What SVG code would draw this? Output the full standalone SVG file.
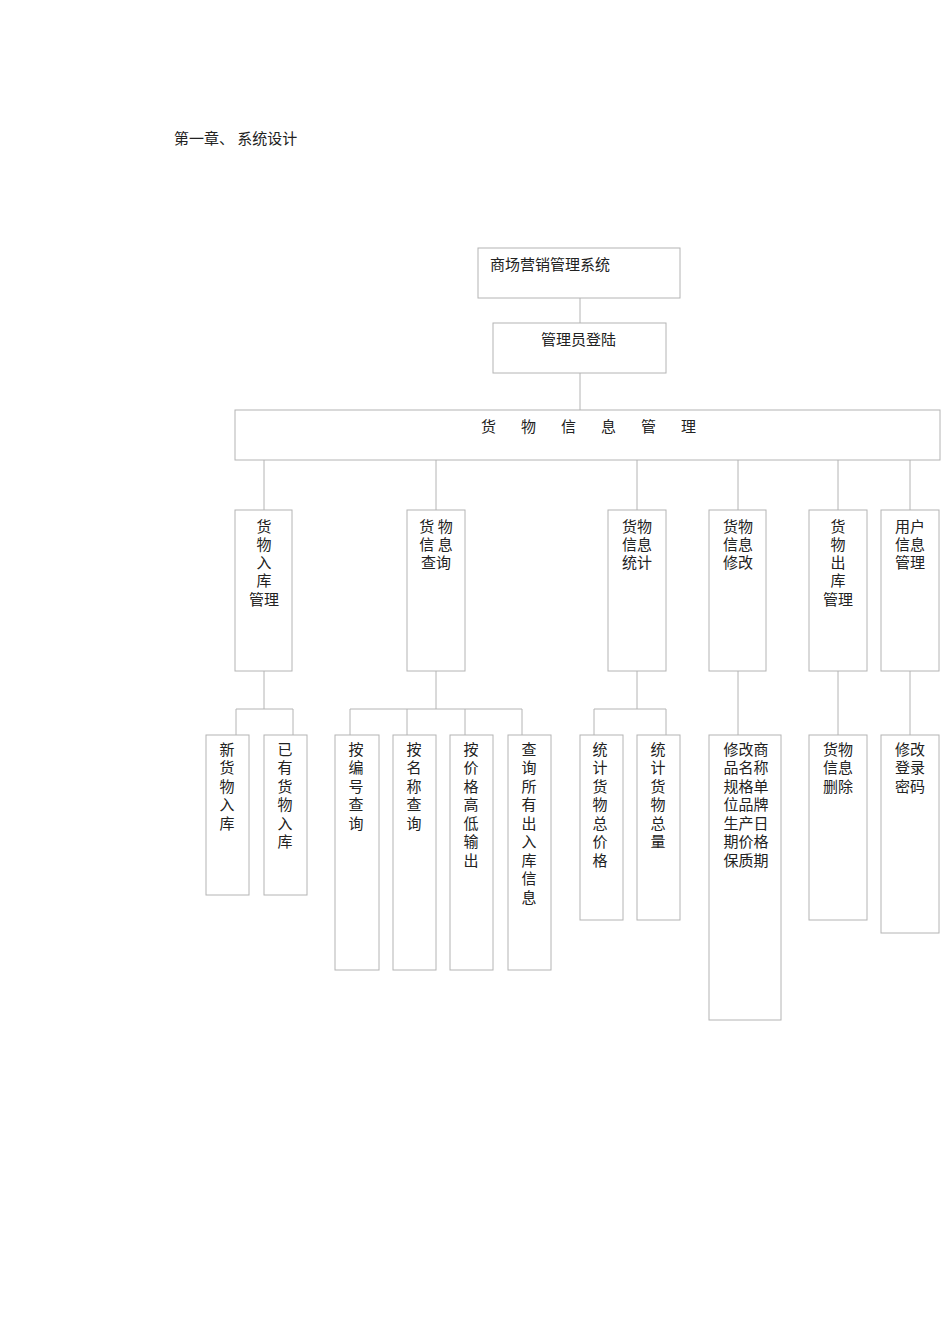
<svg xmlns="http://www.w3.org/2000/svg" width="950" height="1344" viewBox="0 0 950 1344">
<style>
rect{fill:#fff;stroke:#b4b4b4;stroke-width:1}
line{stroke:#b4b4b4;stroke-width:1}
text{font-family:"Noto Sans CJK SC","Liberation Serif",serif;font-size:15px;fill:#222}
.c{text-anchor:middle}
</style>
<rect x="0" y="0" width="950" height="1344" style="stroke:none"/>
<text x="174" y="144">第一章、 系统设计</text>
<g id="connectors">
<line x1="580" y1="298" x2="580" y2="323"/>
<line x1="580" y1="373" x2="580" y2="410"/>
<line x1="264" y1="460" x2="264" y2="510"/>
<line x1="436" y1="460" x2="436" y2="510"/>
<line x1="637" y1="460" x2="637" y2="510"/>
<line x1="738" y1="460" x2="738" y2="510"/>
<line x1="838" y1="460" x2="838" y2="510"/>
<line x1="910" y1="460" x2="910" y2="510"/>
<line x1="264" y1="671" x2="264" y2="709"/>
<line x1="236" y1="709" x2="293" y2="709"/>
<line x1="236" y1="709" x2="236" y2="735"/>
<line x1="293" y1="709" x2="293" y2="735"/>
<line x1="436" y1="671" x2="436" y2="709"/>
<line x1="350" y1="709" x2="522" y2="709"/>
<line x1="350" y1="709" x2="350" y2="735"/>
<line x1="407" y1="709" x2="407" y2="735"/>
<line x1="465" y1="709" x2="465" y2="735"/>
<line x1="522" y1="709" x2="522" y2="735"/>
<line x1="637" y1="671" x2="637" y2="709"/>
<line x1="594" y1="709" x2="666" y2="709"/>
<line x1="594" y1="709" x2="594" y2="735"/>
<line x1="666" y1="709" x2="666" y2="735"/>
<line x1="738" y1="671" x2="738" y2="735"/>
<line x1="838" y1="671" x2="838" y2="735"/>
<line x1="910" y1="671" x2="910" y2="735"/>
</g>
<g id="n-root"><rect x="478" y="248" width="202" height="50"/><text x="490" y="270">商场营销管理系统</text></g>
<g id="n-login"><rect x="493" y="323" width="173" height="50"/><text x="541" y="345">管理员登陆</text></g>
<g id="n-main"><rect x="235" y="410" width="705" height="50"/><text x="481" y="432" style="letter-spacing:25px">货物信息管理</text></g>
<g id="n-in"><rect x="235" y="510" width="57" height="161"/><text class="c" x="264" y="532">货</text><text class="c" x="264" y="550">物</text><text class="c" x="264" y="568">入</text><text class="c" x="264" y="586">库</text><text class="c" x="264" y="605">管理</text></g>
<g id="n-query"><rect x="407" y="510" width="58" height="161"/><text class="c" x="436" y="532">货 物</text><text class="c" x="436" y="550">信 息</text><text class="c" x="436" y="568">查询</text></g>
<g id="n-stat"><rect x="608" y="510" width="58" height="161"/><text class="c" x="637" y="532">货物</text><text class="c" x="637" y="550">信息</text><text class="c" x="637" y="568">统计</text></g>
<g id="n-mod"><rect x="709" y="510" width="57" height="161"/><text class="c" x="738" y="532">货物</text><text class="c" x="738" y="550">信息</text><text class="c" x="738" y="568">修改</text></g>
<g id="n-out"><rect x="809" y="510" width="58" height="161"/><text class="c" x="838" y="532">货</text><text class="c" x="838" y="550">物</text><text class="c" x="838" y="568">出</text><text class="c" x="838" y="586">库</text><text class="c" x="838" y="605">管理</text></g>
<g id="n-user"><rect x="881" y="510" width="58" height="161"/><text class="c" x="910" y="532">用户</text><text class="c" x="910" y="550">信息</text><text class="c" x="910" y="568">管理</text></g>
<g id="n-new"><rect x="206" y="735" width="43" height="160"/><text class="c" x="227" y="755">新</text><text class="c" x="227" y="773">货</text><text class="c" x="227" y="792">物</text><text class="c" x="227" y="810">入</text><text class="c" x="227" y="829">库</text></g>
<g id="n-exist"><rect x="264" y="735" width="43" height="160"/><text class="c" x="285" y="755">已</text><text class="c" x="285" y="773">有</text><text class="c" x="285" y="792">货</text><text class="c" x="285" y="810">物</text><text class="c" x="285" y="829">入</text><text class="c" x="285" y="847">库</text></g>
<g id="n-q1"><rect x="335" y="735" width="44" height="235"/><text class="c" x="356" y="755">按</text><text class="c" x="356" y="773">编</text><text class="c" x="356" y="792">号</text><text class="c" x="356" y="810">查</text><text class="c" x="356" y="829">询</text></g>
<g id="n-q2"><rect x="393" y="735" width="43" height="235"/><text class="c" x="414" y="755">按</text><text class="c" x="414" y="773">名</text><text class="c" x="414" y="792">称</text><text class="c" x="414" y="810">查</text><text class="c" x="414" y="829">询</text></g>
<g id="n-q3"><rect x="450" y="735" width="43" height="235"/><text class="c" x="471" y="755">按</text><text class="c" x="471" y="773">价</text><text class="c" x="471" y="792">格</text><text class="c" x="471" y="810">高</text><text class="c" x="471" y="829">低</text><text class="c" x="471" y="847">输</text><text class="c" x="471" y="866">出</text></g>
<g id="n-q4"><rect x="508" y="735" width="43" height="235"/><text class="c" x="529" y="755">查</text><text class="c" x="529" y="773">询</text><text class="c" x="529" y="792">所</text><text class="c" x="529" y="810">有</text><text class="c" x="529" y="829">出</text><text class="c" x="529" y="847">入</text><text class="c" x="529" y="866">库</text><text class="c" x="529" y="884">信</text><text class="c" x="529" y="903">息</text></g>
<g id="n-s1"><rect x="580" y="735" width="43" height="185"/><text class="c" x="600" y="755">统</text><text class="c" x="600" y="773">计</text><text class="c" x="600" y="792">货</text><text class="c" x="600" y="810">物</text><text class="c" x="600" y="829">总</text><text class="c" x="600" y="847">价</text><text class="c" x="600" y="866">格</text></g>
<g id="n-s2"><rect x="637" y="735" width="43" height="185"/><text class="c" x="658" y="755">统</text><text class="c" x="658" y="773">计</text><text class="c" x="658" y="792">货</text><text class="c" x="658" y="810">物</text><text class="c" x="658" y="829">总</text><text class="c" x="658" y="847">量</text></g>
<g id="n-m1"><rect x="709" y="735" width="72" height="285"/><text class="c" x="746" y="755">修改商</text><text class="c" x="746" y="773">品名称</text><text class="c" x="746" y="792">规格单</text><text class="c" x="746" y="810">位品牌</text><text class="c" x="746" y="829">生产日</text><text class="c" x="746" y="847">期价格</text><text class="c" x="746" y="866">保质期</text></g>
<g id="n-o1"><rect x="809" y="735" width="58" height="185"/><text class="c" x="838" y="755">货物</text><text class="c" x="838" y="773">信息</text><text class="c" x="838" y="792">删除</text></g>
<g id="n-u1"><rect x="881" y="735" width="58" height="198"/><text class="c" x="910" y="755">修改</text><text class="c" x="910" y="773">登录</text><text class="c" x="910" y="792">密码</text></g>
</svg>
